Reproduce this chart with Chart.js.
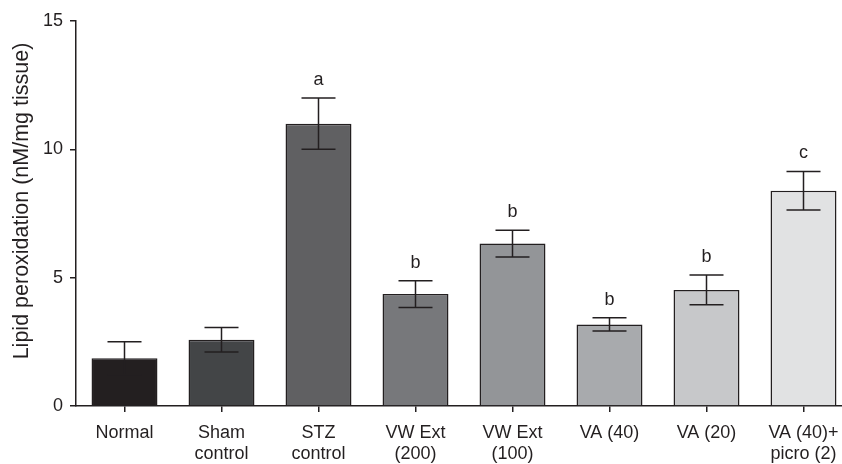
<!DOCTYPE html>
<html>
<head>
<meta charset="utf-8">
<script src="https://cdn.jsdelivr.net/npm/chart.js@4"></script>
<style>
  html, body { margin: 0; padding: 0; background: #fff; overflow: hidden; }
  #wrap { width: 852px; height: 464px; }
</style>
</head>
<body>
<div id="wrap"><canvas id="chart"></canvas></div>
<script>
const categories = [
  "Normal",
  ["Sham", "control"],
  ["STZ", "control"],
  ["VW Ext", "(200)"],
  ["VW Ext", "(100)"],
  "VA (40)",
  "VA (20)",
  ["VA (40)+", "picro (2)"]
];
const means = [1.86, 2.58, 11.0, 4.36, 6.33, 3.18, 4.52, 8.39];
const errors = [0.64, 0.48, 1.0, 0.52, 0.52, 0.26, 0.58, 0.75];
const letters = ["", "", "a", "b", "b", "b", "b", "c"];
const barColors = ["#231f20", "#434547", "#606062", "#77787b", "#939598", "#a8aaad", "#c7c8ca", "#e1e2e3"];
const yTicks = [0, 5, 10, 15];
const yTitle = "Lipid peroxidation (nM/mg tissue)";

const ink = "#231f20";
const fontFamily = "'Liberation Sans', Arial, sans-serif";

// error bars (caps), significance letters and the y title
const errorBarPlugin = {
  id: "errorBars",
  afterDatasetsDraw(chart) {
    const ctx = chart.ctx;
    const meta = chart.getDatasetMeta(0);
    const y = chart.scales.y;
    ctx.save();
    ctx.strokeStyle = ink;
    ctx.lineWidth = 1.5;
    meta.data.forEach((bar, i) => {
      const x = bar.x;
      const top = y.getPixelForValue(means[i] + errors[i]);
      const bot = y.getPixelForValue(means[i] - errors[i]);
      const half = 17;
      ctx.beginPath();
      ctx.moveTo(x, top); ctx.lineTo(x, bot);
      ctx.moveTo(x - half, top); ctx.lineTo(x + half, top);
      ctx.moveTo(x - half, bot); ctx.lineTo(x + half, bot);
      ctx.stroke();
      if (letters[i]) {
        ctx.fillStyle = ink;
        ctx.font = "18px " + fontFamily;
        ctx.textAlign = "center";
        ctx.textBaseline = "alphabetic";
        ctx.fillText(letters[i], x, top - 13);
      }
    });
    // y axis title
    ctx.translate(22, 201);
    ctx.rotate(-Math.PI / 2);
    ctx.fillStyle = ink;
    ctx.font = "21.5px " + fontFamily;
    ctx.textAlign = "center";
    ctx.textBaseline = "middle";
    ctx.fillText(yTitle, 0, 0);
    ctx.restore();
  }
};

new Chart(document.getElementById("chart"), {
  type: "bar",
  data: {
    labels: categories,
    datasets: [{
      data: means,
      backgroundColor: barColors,
      borderColor: ink,
      borderWidth: 1.5,
      categoryPercentage: 1,
      barPercentage: 0.68
    }]
  },
  options: {
    responsive: true,
    maintainAspectRatio: false,
    animation: false,
    layout: { padding: { top: 21, left: 0, right: 0, bottom: 0 } },
    plugins: {
      legend: { display: false },
      tooltip: { enabled: false }
    },
    scales: {
      x: {
        offset: true,
        border: { color: ink, width: 1.5 },
        grid: { display: true, drawOnChartArea: false, color: ink, lineWidth: 1.5, tickLength: 6, offset: false },
        ticks: {
          color: ink,
          padding: 10,
          maxRotation: 0,
          autoSkip: false,
          font: { family: fontFamily, size: 18, lineHeight: 1.18 }
        },
        afterFit(scale) { scale.height = 58; }
      },
      y: {
        min: 0,
        max: 15,
        border: { color: ink, width: 1.5 },
        grid: { display: true, drawOnChartArea: false, color: ink, lineWidth: 1.5, tickLength: 6 },
        afterBuildTicks(scale) { scale.ticks = yTicks.map(v => ({ value: v })); },
        ticks: {
          color: ink,
          padding: 7,
          font: { family: fontFamily, size: 18 }
        },
        afterFit(scale) { scale.width = 76; }
      }
    }
  },
  plugins: [errorBarPlugin]
});
</script>
</body>
</html>
